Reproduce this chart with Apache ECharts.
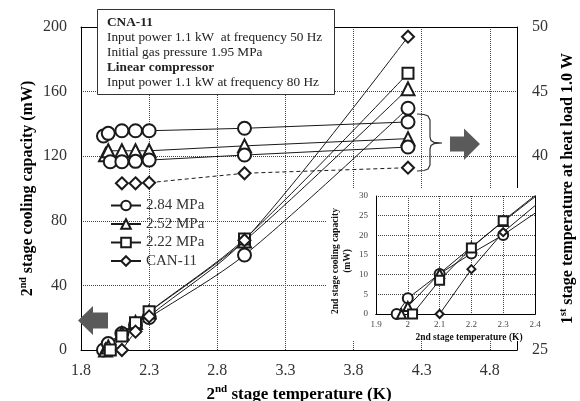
<!doctype html>
<html>
<head>
<meta charset="utf-8">
<title>2nd stage cooling capacity</title>
<script src="https://cdn.jsdelivr.net/npm/echarts@6/dist/echarts.min.js"></script>
<style>
	html, body {margin:0; padding:0; background:#fff;}
	#main {width:580px; height:401px;}
</style>
</head>
<body>
<div id="main"></div>
<script>
	"use strict";
	// 2nd stage cooling capacity (mW), left axis
	var xCap284 = [1.965, 2.0, 2.1, 2.2, 2.3, 3.0, 4.2];
	var cap284  = [0, 4.0, 10.2, 15.4, 20.1, 58.8, 149.7];
	var xCap252 = [1.98, 2.0, 2.1, 2.2, 2.3, 3.0, 4.2];
	var cap252  = [0, 1.9, 10.3, 17.0, 23.5, 67.5, 161.7];
	var xCap222 = [2.015, 2.1, 2.2, 2.3, 3.0, 4.2];
	var cap222  = [0, 8.6, 16.8, 23.7, 68.7, 171.3];
	var xCapCna = [2.1, 2.2, 2.3, 3.0, 4.2];
	var capCna  = [0, 11.4, 20.8, 68.0, 194.0];

	// 1st stage temperature at heat load 1.0 W (K), right axis
	var t1st284 = [41.56, 41.77, 41.97, 41.97, 41.97, 42.16, 42.65];
	var t1st252 = [40.12, 40.42, 40.42, 40.42, 40.42, 40.80, 41.36];
	var t1st222 = [39.57, 39.57, 39.60, 39.70, 40.09, 40.71];
	var t1stCna = [37.90, 37.90, 37.95, 38.68, 39.11];

	var legendNames = ['2.84 MPa', '2.52 MPa', '2.22 MPa', 'CAN-11'];
	var xTicks = [1.8, 2.3, 2.8, 3.3, 3.8, 4.3, 4.8];
	var insetXTicks = [1.9, 2.0, 2.1, 2.2, 2.3, 2.4];
	var noteLines = [
		['CNA-11', true],
		['Input power 1.1 kW  at frequency 50 Hz', false],
		['Initial gas pressure 1.95 MPa', false],
		['Linear compressor', true],
		['Input power 1.1 kW at frequency 80 Hz', false]
	];

	var FONT = '"Liberation Serif", "Times New Roman", serif';
	var INK = '#1a1a1a';

	function pairs(xs, ys) {
		var out = [];
		for (let i = 0; i < ys.length; i++) out.push([xs[i], ys[i]]);
		return out;
	}

	function line(name, xs, ys, symbol, size, xi, yi, opts) {
		var s = {
			name: name, type: 'line', xAxisIndex: xi, yAxisIndex: yi,
			data: pairs(xs, ys), symbol: symbol, symbolSize: size,
			showAllSymbol: true, animation: false, z: 2,
			lineStyle: {color: INK, width: 1},
			itemStyle: {color: INK, borderWidth: 1}
		};
		for (var k in opts) s[k] = opts[k];
		return s;
	}

	function richStyle(size) {
		return {
			rich: {
				b: {fontFamily: FONT, fontWeight: 'bold', fontSize: size, color: '#000', lineHeight: size + 4},
				s: {fontFamily: FONT, fontWeight: 'bold', fontSize: Math.round(size * 0.65), color: '#000', verticalAlign: 'top', lineHeight: size + 4}
			}
		};
	}

	var xName = '{b|2}{s|nd}{b| stage temperature (K)}';
	var yName = '{b|2}{s|nd}{b| stage cooling capacity (mW)}';
	var rName = '{b|1}{s|st}{b| stage temperature at heat load 1.0 W}';

	var dotted = {show: true, lineStyle: {color: '#444', type: 'dotted', width: 1}};
	var frame = {show: true, lineStyle: {color: '#000', width: 1}};
	var tickFont = {fontFamily: FONT, fontSize: 16, color: '#333'};
	var insetFont = {fontFamily: FONT, fontSize: 9, color: '#444'};

	var series = [
		// main chart, cooling capacity
		line('2.84 MPa', xCap284, cap284, 'emptyCircle', 13, 0, 0, {smooth: 0.3}),
		line('2.52 MPa', xCap252, cap252, 'emptyTriangle', 13, 0, 0, {smooth: 0.3}),
		line('2.22 MPa', xCap222, cap222, 'emptyRect', 11, 0, 0, {smooth: 0.3}),
		line('CAN-11', xCapCna, capCna, 'emptyDiamond', 12, 0, 0, {smooth: 0.3}),
		// main chart, 1st stage temperature
		line('T 2.84', xCap284, t1st284, 'emptyCircle', 13, 0, 1, {}),
		line('T 2.52', xCap252, t1st252, 'emptyTriangle', 13, 0, 1, {}),
		line('T 2.22', xCap222, t1st222, 'emptyCircle', 13, 0, 1, {}),
		line('T CAN', xCapCna, t1stCna, 'emptyDiamond', 12, 0, 1, {lineStyle: {color: INK, width: 1, type: [4, 3]}}),
		// inset
		line('i 2.84', xCap284, cap284, 'emptyCircle', 10, 2, 2, {z: 12, clip: true}),
		line('i 2.52', xCap252, cap252, 'emptyTriangle', 9, 2, 2, {z: 12, clip: true}),
		line('i 2.22', xCap222, cap222, 'emptyRect', 9, 2, 2, {z: 12, clip: true}),
		line('i CAN', xCapCna, capCna, 'emptyDiamond', 8, 2, 2, {z: 12, clip: true})
	];

	var graphic = [
		// white patch under the inset
		{type: 'rect', shape: {x: 327, y: 188, width: 226, height: 153}, style: {fill: '#fff'}, z: 10},
		// note box
		{type: 'rect', shape: {x: 97.5, y: 9.5, width: 237, height: 85}, style: {fill: '#fff', stroke: '#333', lineWidth: 1}, z: 20},
		// arrows
		{type: 'polygon', shape: {points: [[78, 320.5], [93, 306], [93, 312.5], [108, 312.5], [108, 328.5], [93, 328.5], [93, 335]]}, style: {fill: '#5a5a5a'}, z: 20},
		{type: 'polygon', shape: {points: [[450, 136.5], [464, 136.5], [464, 128.5], [480, 144], [464, 160], [464, 151.5], [450, 151.5]]}, style: {fill: '#5a5a5a'}, z: 20},
		// brace
		{type: 'polyline', shape: {points: [[417, 114], [424, 114.5], [428, 116], [430, 120], [430, 137], [431, 140.5], [434, 142.3], [442, 143],
			[434, 143.7], [431, 145.5], [430, 149], [430, 165], [428, 169], [424, 170.5], [417, 171]]},
			style: {fill: null, stroke: '#333', lineWidth: 1.2}, z: 20},
		// inset titles
		{type: 'text', x: 469, y: 338, z: 21,
			style: {text: '2nd stage temperature (K)', font: 'bold 9.5px ' + FONT, fill: '#111', align: 'center', verticalAlign: 'middle'}},
		{type: 'text', x: 342, y: 261, rotation: Math.PI / 2, z: 21,
			style: {text: '2nd stage cooling capacity\n(mW)', font: 'bold 9.5px ' + FONT, fill: '#111', align: 'center', verticalAlign: 'middle', lineHeight: 12}}
	];
	for (let i = 0; i < noteLines.length; i++) {
		graphic.push({type: 'text', x: 107, y: 23 + i * 15, z: 21,
			style: {text: noteLines[i][0], font: (noteLines[i][1] ? 'bold ' : '') + '13.3px ' + FONT,
				fill: '#222', align: 'left', verticalAlign: 'middle'}});
	}

	var myChart = echarts.init(document.getElementById('main'), null, {renderer: 'canvas'});
	myChart.setOption({
		backgroundColor: '#fff',
		animation: false,
		grid: [
			{left: 81, right: 63, top: 27, bottom: 51, outerBoundsMode: 'none', containLabel: false},
			{left: 376, right: 45, top: 196, bottom: 87, outerBoundsMode: 'none', containLabel: false}
		],
		legend: {
			data: legendNames, orient: 'vertical', left: 110, top: 198,
			itemWidth: 30, itemHeight: 12, itemGap: 3.5, padding: 0,
			textStyle: {fontFamily: FONT, fontSize: 15, color: '#333'},
			selectedMode: false
		},
		xAxis: [
			{type: 'value', gridIndex: 0, min: 1.8, max: 5.0, position: 'bottom',
				axisLine: frame, axisTick: {show: false, customValues: xTicks},
				axisLabel: Object.assign({customValues: xTicks, margin: 13}, tickFont),
				splitLine: dotted,
				name: xName, nameLocation: 'middle', nameGap: 34, nameMoveOverlap: false, nameTextStyle: richStyle(17)},
			{type: 'value', gridIndex: 0, position: 'top', axisLine: frame,
				axisTick: {show: false}, axisLabel: {show: false}, splitLine: {show: false}},
			{type: 'value', gridIndex: 1, min: 1.9, max: 2.4, position: 'bottom', z: 11,
				axisLine: frame, axisTick: {show: false, customValues: insetXTicks},
				axisLabel: Object.assign({customValues: insetXTicks, margin: 6}, insetFont),
				splitLine: dotted},
			{type: 'value', gridIndex: 1, position: 'top', z: 11, axisLine: frame,
				axisTick: {show: false}, axisLabel: {show: false}, splitLine: {show: false}}
		],
		yAxis: [
			{type: 'value', gridIndex: 0, min: 0, max: 200, interval: 40, position: 'left',
				axisLine: frame, axisTick: {show: false},
				axisLabel: Object.assign({margin: 14}, tickFont),
				splitLine: dotted,
				name: yName, nameLocation: 'middle', nameRotate: 90, nameGap: 43, nameMoveOverlap: false, nameTextStyle: richStyle(16)},
			{type: 'value', gridIndex: 0, min: 25, max: 50, interval: 5, position: 'right',
				axisLine: frame, axisTick: {show: false},
				axisLabel: Object.assign({margin: 15}, tickFont),
				splitLine: {show: false},
				name: rName, nameLocation: 'middle', nameRotate: 90, nameGap: 41, nameMoveOverlap: false, nameTextStyle: richStyle(16)},
			{type: 'value', gridIndex: 1, min: 0, max: 30, interval: 5, position: 'left', z: 11,
				axisLine: frame, axisTick: {show: false},
				axisLabel: Object.assign({margin: 8}, insetFont),
				splitLine: dotted},
			{type: 'value', gridIndex: 1, position: 'right', z: 11, axisLine: frame,
				axisTick: {show: false}, axisLabel: {show: false}, splitLine: {show: false}}
		],
		graphic: graphic,
		series: series
	});
</script>
</body>
</html>
